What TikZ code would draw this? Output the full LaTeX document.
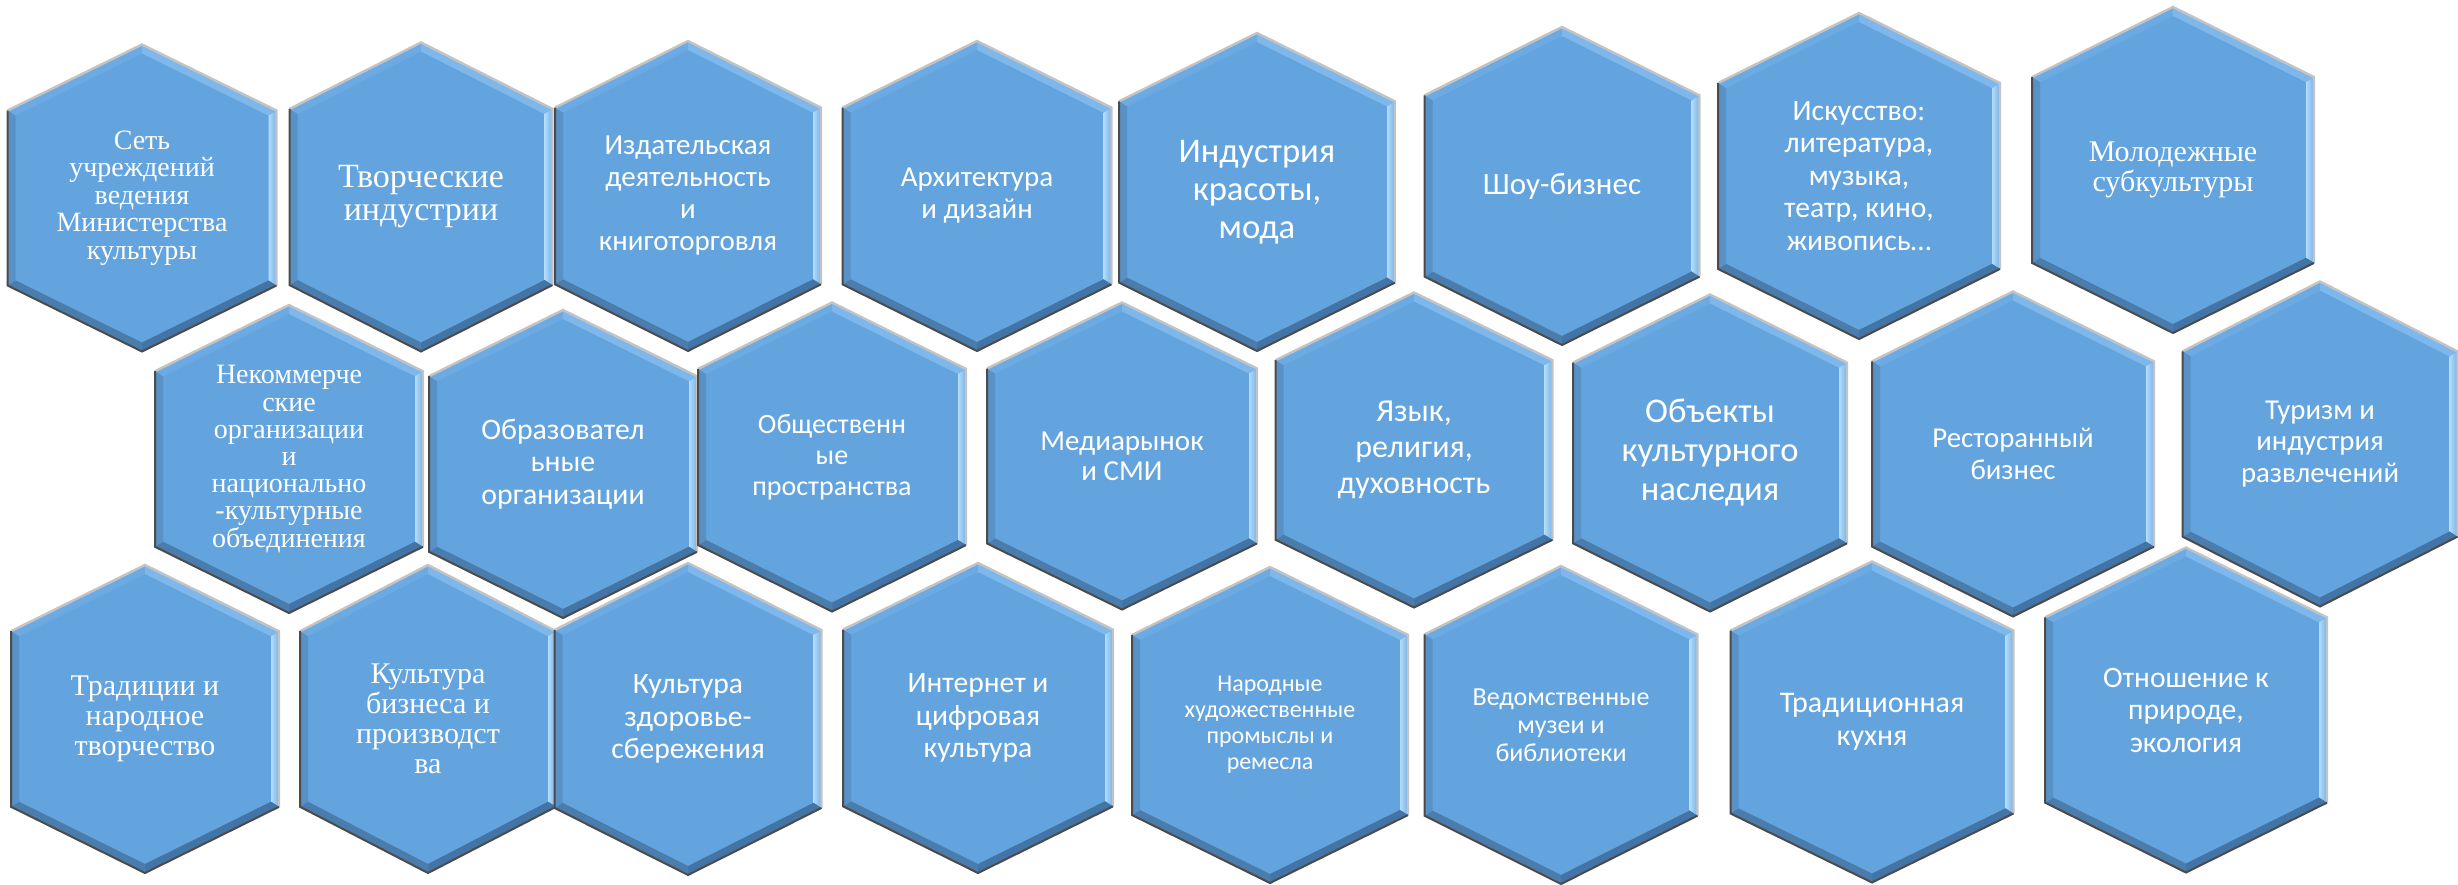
\documentclass[tikz,border=0pt]{standalone}
\usepackage{fontspec}
\setmainfont{Liberation Serif}
\newfontfamily\calfont{Carlito}
\newfontfamily\tnrfont{Liberation Serif}
\newcommand\hcal[2]{\calfont\fontsize{#1}{#2}\selectfont}
\newcommand\htnr[2]{\tnrfont\fontsize{#1}{#2}\selectfont}
\definecolor{hexmain}{RGB}{99,164,222}
\definecolor{hexTL}{RGB}{108,170,227}
\definecolor{hexTR}{RGB}{125,183,235}
\definecolor{hexRin}{RGB}{178,220,251}
\definecolor{hexRout}{RGB}{118,176,230}
\definecolor{hexBR}{RGB}{66,116,166}
\definecolor{hexBL}{RGB}{74,124,172}
\definecolor{hexL}{RGB}{88,145,198}
\definecolor{edgeL}{RGB}{195,195,195}
\definecolor{edgeD}{RGB}{75,75,75}
\tikzset{
  hexlabel/.style={text=white, align=center, inner sep=0pt},
  edgelight/.style={draw=edgeL, line width=1.2pt, line join=miter},
  edgedark/.style={draw=edgeD, line width=1.0pt, line join=miter},
}
\newcommand\hexcell[7]{%
  \pgfmathsetmacro\ha{#4/2}%
  \pgfmathsetmacro\hb{#5/2}%
  \pgfmathsetmacro\hs{0.215*#5}%
  \pgfmathsetmacro\ia{\ha-8}%
  \pgfmathsetmacro\ib{\hb-9}%
  \pgfmathsetmacro\is{\hs-3.9}%
  \begin{scope}[shift={(#2,#3)}]
    \coordinate (oT) at (0,-\hb);
    \coordinate (oTR) at (\ha,-\hb+\hs);
    \coordinate (oBR) at (\ha,\hb-\hs);
    \coordinate (oB) at (0,\hb);
    \coordinate (oBL) at (-\ha,\hb-\hs);
    \coordinate (oTL) at (-\ha,-\hb+\hs);
    \coordinate (iT) at (0,-\ib);
    \coordinate (iTR) at (\ia,-\ib+\is);
    \coordinate (iBR) at (\ia,\ib-\is);
    \coordinate (iB) at (0,\ib);
    \coordinate (iBL) at (-\ia,\ib-\is);
    \coordinate (iTL) at (-\ia,-\ib+\is);
    \fill[hexmain] (oT)--(oTR)--(oBR)--(oB)--(oBL)--(oTL)--cycle;
    \fill[hexTL] (oTL)--(oT)--(iT)--(iTL)--cycle;
    \fill[hexTR] (oT)--(oTR)--(iTR)--(iT)--cycle;
    \shade[left color=hexRin, right color=hexRout] (oTR)--(oBR)--(iBR)--(iTR)--cycle;
    \fill[hexBR] (oBR)--(oB)--(iB)--(iBR)--cycle;
    \fill[hexBL] (oB)--(oBL)--(iBL)--(iB)--cycle;
    \fill[hexL] (oBL)--(oTL)--(iTL)--(iBL)--cycle;
    \draw[edgelight] (oTL)--(oT)--(oTR)--(oBR);
    \draw[edgedark] (oBR)--(oB)--(oBL)--(oTL);
  \end{scope}
  \node[hexlabel, font={#6}] (#1) at (#2,#3) {#7};
}
\begin{document}
\begin{tikzpicture}[x=0.5pt,y=-0.5pt]
\useasboundingbox (0,0) rectangle (2458,884);
% row 1
\hexcell{set}{142}{198}{269}{307}{\htnr{14}{13.75}}{Сеть\\учреждений\\ведения\\Министерства\\культуры}
\hexcell{tvor}{421}{197}{263}{309}{\htnr{17}{16.5}}{Творческие\\индустрии}
\hexcell{izd}{688}{196}{266}{310}{\hcal{14.5}{16}}{Издательская\\деятельность\\и\\книготорговля}
\hexcell{arh}{977}{196}{269}{310}{\hcal{14.5}{16}}{Архитектура\\и дизайн}
\hexcell{ind}{1257}{192}{276}{318}{\hcal{17.3}{19}}{Индустрия\\красоты,\\мода}
\hexcell{shou}{1562}{186}{275}{318}{\hcal{15.5}{17}}{Шоу-бизнес}
\hexcell{isk}{1859}{176}{282}{326}{\hcal{14.8}{16.25}}{Искусство:\\литература,\\музыка,\\театр, кино,\\живопись…}
\hexcell{mol}{2173}{170}{282}{326}{\htnr{15}{15}}{Молодежные\\субкультуры}
% row 2
\hexcell{nek}{289}{459}{268}{308}{\htnr{14}{13.6}}{Некоммерче\\ские\\организации\\и\\национально\\-культурные\\объединения}
\hexcell{obr}{563}{464}{268}{308}{\hcal{14.9}{16.3}}{Образовател\\ьные\\организации}
\hexcell{obs}{832}{457}{268}{309}{\hcal{14}{15.5}}{Общественн\\ые\\пространства}
\hexcell{med}{1122}{456}{270}{307}{\hcal{14.5}{15}}{Медиарынок\\и СМИ}
\hexcell{yaz}{1414}{450}{277}{315}{\hcal{16}{18}}{Язык,\\религия,\\духовность}
\hexcell{obj}{1710}{453}{274}{317}{\hcal{17.3}{19.5}}{Объекты\\культурного\\наследия}
\hexcell{rest}{2013}{454}{282}{325}{\hcal{14.4}{15.8}}{Ресторанный\\бизнес}
\hexcell{tur}{2320}{444}{275}{325}{\hcal{14.4}{15.8}}{Туризм и\\индустрия\\развлечений}
% row 3
\hexcell{trad}{145}{719}{268}{308}{\htnr{15}{15}}{Традиции и\\народное\\творчество}
\hexcell{kbiz}{428}{719}{256}{308}{\htnr{15}{15}}{Культура\\бизнеса и\\производст\\ва}
\hexcell{kzd}{688}{719}{267}{312}{\hcal{14.8}{16.25}}{Культура\\здоровье-\\сбережения}
\hexcell{inet}{978}{718}{270}{310}{\hcal{14.8}{16.25}}{Интернет и\\цифровая\\культура}
\hexcell{nar}{1270}{725}{276}{316}{\hcal{12}{13}}{Народные\\художественные\\промыслы и\\ремесла}
\hexcell{ved}{1561}{725}{273}{318}{\hcal{13}{14}}{Ведомственные\\музеи и\\библиотеки}
\hexcell{kuh}{1872}{722}{283}{321}{\hcal{15}{16.5}}{Традиционная\\кухня}
\hexcell{otn}{2186}{710}{282}{325}{\hcal{14.8}{16.25}}{Отношение к\\природе,\\экология}
\end{tikzpicture}
\end{document}
